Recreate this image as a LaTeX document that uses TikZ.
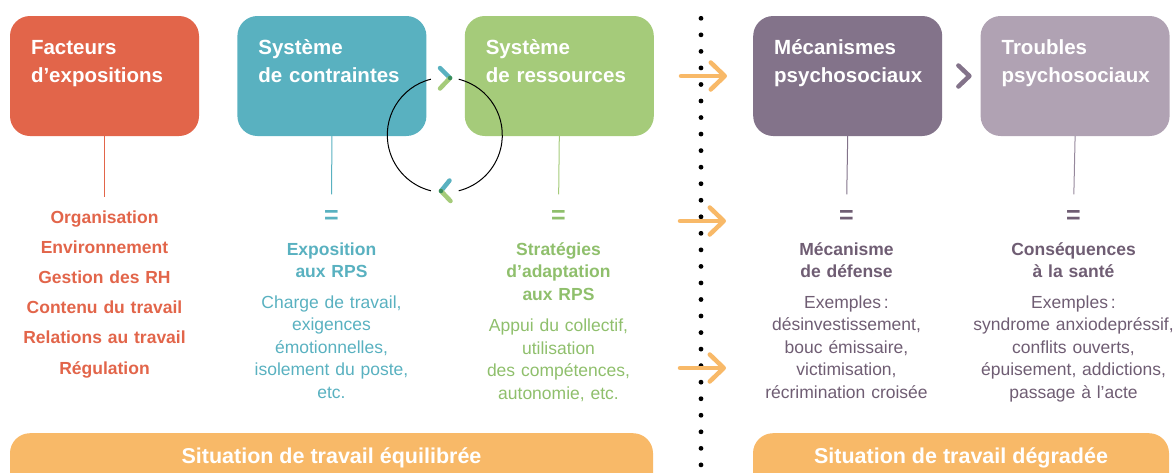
\documentclass[tikz,border=0pt]{standalone}
\usepackage{fontspec}
\setmainfont{Liberation Sans}
\usetikzlibrary{positioning,arrows.meta,calc}

\definecolor{factcol}{HTML}{E2654A}
\definecolor{contrcol}{HTML}{59B1C0}
\definecolor{resscol}{HTML}{A5CB7A}
\definecolor{resstext}{HTML}{8FBF6C}
\definecolor{mecacol}{HTML}{83738A}
\definecolor{troubcol}{HTML}{B0A2B3}
\definecolor{purptext}{HTML}{6F5D73}
\definecolor{bandcol}{HTML}{F8B968}
\definecolor{tipcol}{HTML}{398D5C}

\begin{document}
\begin{tikzpicture}[
  x=1pt, y=-1pt, node distance=38pt,
  headbox/.style={rounded corners=20pt, minimum width=189pt, minimum height=120pt, inner sep=0pt},
  headtitle/.style={anchor=base west, text width=175pt, align=left, inner sep=0pt, text=white,
    font=\fontsize{20.5}{27.7}\selectfont\bfseries},
  linkline/.style={line width=1pt, shorten >=16pt},
  eqsign/.style={inner sep=0pt, font=\fontsize{25}{25}\selectfont\bfseries},
  coltitle/.style={anchor=base, text width=230pt, align=center, inner sep=0pt,
    font=\fontsize{17.5}{22.6}\selectfont\bfseries},
  coltext/.style={anchor=base, text width=230pt, align=center, inner sep=0pt,
    font=\fontsize{17.5}{22.6}\selectfont},
  factlist/.style={anchor=base, text width=230pt, align=center, inner sep=0pt, text=factcol,
    font=\fontsize{17.5}{30.2}\selectfont\bfseries},
  band/.style={fill=bandcol, rounded corners=20pt, inner sep=0pt, anchor=north, minimum height=60pt},
  bandtext/.style={anchor=base, inner sep=0pt, text=white, font=\fontsize{21.5}{24}\selectfont\bfseries},
  goarrow/.style={draw=bandcol, line width=4.5pt, line cap=round,
    -{Straight Barb[length=14pt, width=27pt, line cap=round, line join=round]}},
  chev/.style={line width=4.5pt, line cap=round, line join=round},
  cycleline/.style={line width=1pt},
  dotline/.style={line width=4.8pt, line cap=round, dash pattern=on 0pt off 16.54pt}
]
  \path[use as bounding box, clip] (0,0) rectangle (1176,472);

  % top boxes
  \node[headbox, fill=factcol] (fe) at (104.5,76) {};
  \node[headbox, fill=contrcol, right=of fe] (sc) {};
  \node[headbox, fill=resscol, right=of sc] (sr) {};
  \node[headbox, fill=mecacol, right=99pt of sr] (mp) {};
  \node[headbox, fill=troubcol, right=of mp] (tp) {};

  \node[headtitle] (fet) at ($(fe.north west)+(21,39)$) {Facteurs\\d’expositions};
  \node[headtitle] (sct) at ($(sc.north west)+(21,39)$) {Système\\de contraintes};
  \node[headtitle] (srt) at ($(sr.north west)+(21,39)$) {Système\\de ressources};
  \node[headtitle] (mpt) at ($(mp.north west)+(21,39)$) {Mécanismes\\psychosociaux};
  \node[headtitle] (tpt) at ($(tp.north west)+(21,39)$) {Troubles\\psychosociaux};

  % equal signs
  \node[eqsign, text=contrcol] (eq2) at (331.5,217) {=};
  \node[eqsign, text=resstext] (eq3) at (558.5,217) {=};
  \node[eqsign, text=purptext] (eq4) at (846.5,217) {=};
  \node[eqsign, text=purptext] (eq5) at (1073.5,217) {=};

  % columns
  \node[factlist] (fl) at (104.5,223) {Organisation\\Environnement\\Gestion des RH\\Contenu du travail\\Relations au travail\\Régulation};

  \node[coltitle, text=contrcol] (ce) at (331.5,255) {Exposition\\aux RPS};
  \node[coltext, text=contrcol] (ced) at (331.5,308) {Charge de travail,\\exigences\\émotionnelles,\\isolement du poste,\\etc.};

  \node[coltitle, text=resstext] (sa) at (558.5,255) {Stratégies\\d’adaptation\\aux RPS};
  \node[coltext, text=resstext] (sad) at (558.5,331.5) {Appui du collectif,\\utilisation\\des compétences,\\autonomie, etc.};

  \node[coltitle, text=purptext] (md) at (846.5,255) {Mécanisme\\de défense};
  \node[coltext, text=purptext] (mdd) at (846.5,308) {Exemples\,:\\désinvestissement,\\bouc émissaire,\\victimisation,\\récrimination croisée};

  \node[coltitle, text=purptext] (cs) at (1073.5,255) {Conséquences\\à la santé};
  \node[coltext, text=purptext] (csd) at (1073.5,308) {Exemples\,:\\syndrome anxiodepréssif,\\conflits ouverts,\\épuisement, addictions,\\passage à l’acte};

  % links
  \draw[linkline, draw=factcol, shorten >=13pt] (fe.south) -- (fl.north);
  \draw[linkline, draw=contrcol] (sc.south) -- (eq2.north);
  \draw[linkline, draw=resscol] (sr.south) -- (eq3.north);
  \draw[linkline, draw=mecacol] (mp.south) -- (eq4.north);
  \draw[linkline, draw=mecacol!85] (tp.south) -- (eq5.north);

  % bands
  \node[band, minimum width=643pt] (bl) at (331.5,433) {};
  \node[bandtext] (blt) at (331.5,463.5) {Situation de travail équilibrée};
  \node[band, minimum width=416pt] (br) at (961,433) {};
  \node[bandtext] (brt) at (961,463.5) {Situation de travail dégradée};

  % divider
  \draw[dotline] (701,18.3) -- (701,480);

  % orange arrows
  \coordinate (a2s) at (680,221);
  \coordinate (a2e) at (726,221);
  \coordinate (a3s) at (680,368);
  \coordinate (a3e) at (726,368);
  \draw[goarrow, shorten <=27pt, shorten >=26pt] (sr.east) -- (mp.west);
  \draw[goarrow] (a2s) -- (a2e);
  \draw[goarrow] (a3s) -- (a3e);

  % chevron between mp and tp
  \draw[chev, draw=mecacol] ($(mp.east)+(16,-10.5)$) -- ++(11,10.5) -- ++(-11,10.5);

  % cycle between sc and sr
  \coordinate (cyc) at (444.8,135);
  \draw[cycleline] (cyc) ++(76:57.5pt) arc[start angle=76, end angle=-76, radius=57.5pt];
  \draw[cycleline] (cyc) ++(104:57.5pt) arc[start angle=104, end angle=256, radius=57.5pt];
  \draw[chev, draw=contrcol] (440,68) -- (450,78);
  \draw[chev, draw=resscol] (450,78) -- (440,88.5);
  \fill[tipcol] (450,78) circle (2.25pt);
  \draw[chev, draw=contrcol] (449.5,180.5) -- (441,191);
  \draw[chev, draw=resscol] (441,191) -- (450.5,201);
  \fill[tipcol] (441,191) circle (2.25pt);
\end{tikzpicture}
\end{document}
